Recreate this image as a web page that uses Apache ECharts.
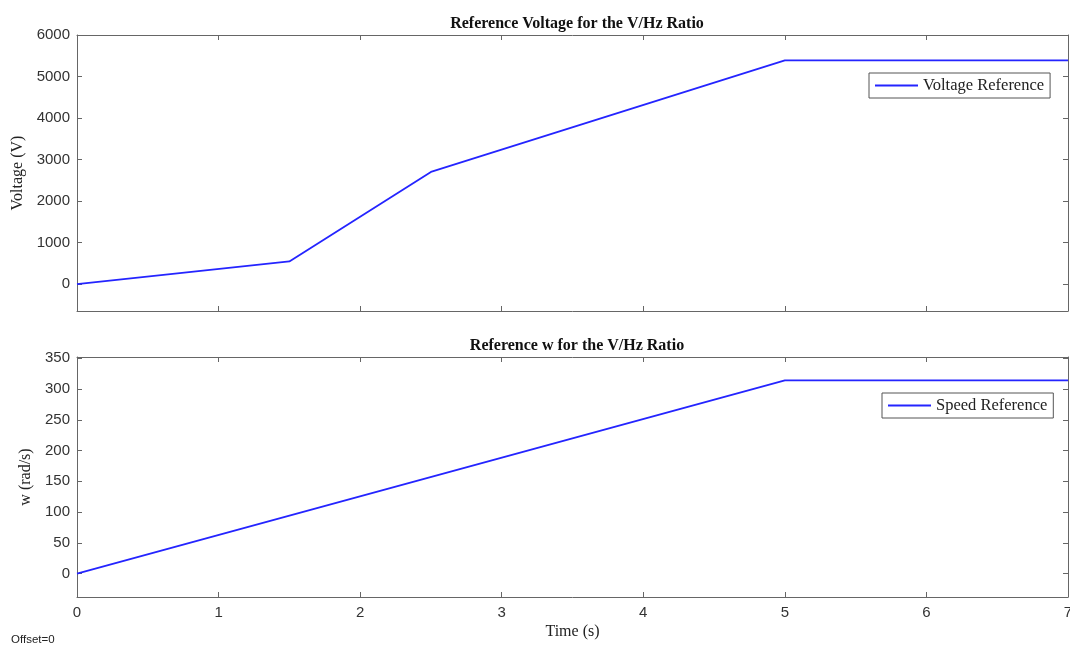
<!DOCTYPE html>
<html>
<head>
<meta charset="UTF-8">
<script src="https://cdn.jsdelivr.net/npm/echarts@6/dist/echarts.min.js"></script>
<style>
  body { margin: 0; background: #fff; }
  #chart { width: 1070px; height: 646px; }
</style>
</head>
<body>
<div id="chart"></div>
<script>
// data
const timeV = [0, 1.5, 2.5, 5, 7];
const voltV = [0, 545, 2700, 5389, 5389];
const timeW = [0, 5, 7];
const speedW = [0, 314, 314];
const xTicks = [0, 1, 2, 3, 4, 5, 6, 7];
const vTicks = [0, 1000, 2000, 3000, 4000, 5000, 6000];
const wTicks = [0, 50, 100, 150, 200, 250, 300, 350];

const chart = echarts.init(document.getElementById('chart'));
const axisCol = '#666';
const txtCol = '#333';
const serif = '"Liberation Serif", "DejaVu Serif", serif';
const sans = '"Liberation Sans", Arial, sans-serif';
const lineCol = '#2424ff';

function pairs(xs, ys) { return xs.map((x, i) => [x, ys[i]]); }

function xAx(grid, pos, labels) {
  return {
    type: 'value', gridIndex: grid, position: pos, min: 0, max: 7,
    axisLine: { show: true, onZero: false, lineStyle: { color: axisCol, width: 1 } },
    axisTick: { show: true, inside: true, length: 5, customValues: xTicks, lineStyle: { color: axisCol } },
    axisLabel: { show: labels, customValues: xTicks, color: txtCol, fontFamily: sans, fontSize: 15, margin: 8,
      formatter: v => String(v) },
    splitLine: { show: false },
    name: labels ? 'Time (s)' : '', nameLocation: 'middle', nameGap: 27,
    nameTextStyle: { fontFamily: serif, fontSize: 16, color: '#222' }
  };
}
function yAx(grid, pos, mn, mx, ticks, name, gap) {
  const left = pos === 'left';
  return {
    type: 'value', gridIndex: grid, position: pos, min: mn, max: mx,
    axisLine: { show: true, onZero: false, lineStyle: { color: axisCol, width: 1 } },
    axisTick: { show: true, inside: true, length: 5, customValues: ticks, lineStyle: { color: axisCol } },
    axisLabel: { show: left, customValues: ticks, color: txtCol, fontFamily: sans, fontSize: 15, margin: 7,
      formatter: v => String(v) },
    splitLine: { show: false },
    name: left ? name : '', nameLocation: 'middle', nameGap: gap,
    nameTextStyle: { fontFamily: serif, fontSize: 16, color: '#222' }
  };
}

const legendStyle = {
  orient: 'vertical', icon: 'rect', itemWidth: 43, itemHeight: 2, itemGap: 0,
  borderColor: '#555', borderWidth: 1, borderRadius: 0, padding: [4, 6, 4, 6],
  backgroundColor: '#fff',
  textStyle: { fontFamily: serif, fontSize: 16.5, color: '#222' }
};

chart.setOption({
  animation: false,
  title: [
    { text: 'Reference Voltage for the V/Hz Ratio', left: 572, top: 11, textAlign: 'center',
      textStyle: { fontFamily: serif, fontSize: 16, fontWeight: 'bold', color: '#111' } },
    { text: 'Reference w for the V/Hz Ratio', left: 572, top: 333, textAlign: 'center',
      textStyle: { fontFamily: serif, fontSize: 16, fontWeight: 'bold', color: '#111' } },
    { text: 'Offset=0', left: 11, top: 634, padding: 0,
      textStyle: { fontFamily: sans, fontSize: 11.5, fontWeight: 'normal', color: '#222' } }
  ],
  legend: [
    Object.assign({ data: ['Voltage Reference'], left: 869, top: 73 }, legendStyle),
    Object.assign({ data: ['Speed Reference'], left: 882, top: 393 }, legendStyle)
  ],
  grid: [
    { left: 77, right: 2, top: 35, height: 276, outerBoundsMode: 'none' },
    { left: 77, right: 2, top: 357, height: 240, outerBoundsMode: 'none' }
  ],
  xAxis: [
    xAx(0, 'bottom', false), xAx(0, 'top', false),
    xAx(1, 'bottom', true), xAx(1, 'top', false)
  ],
  yAxis: [
    yAx(0, 'left', -650, 6000, vTicks, 'Voltage (V)', 49),
    yAx(0, 'right', -650, 6000, vTicks, '', 0),
    yAx(1, 'left', -38, 352, wTicks, 'w (rad/s)', 34),
    yAx(1, 'right', -38, 352, wTicks, '', 0)
  ],
  series: [
    { name: 'Voltage Reference', type: 'line', xAxisIndex: 0, yAxisIndex: 0,
      data: pairs(timeV, voltV), showSymbol: false, color: lineCol,
      lineStyle: { width: 1.8, color: lineCol } },
    { name: 'Speed Reference', type: 'line', xAxisIndex: 2, yAxisIndex: 2,
      data: pairs(timeW, speedW), showSymbol: false, color: lineCol,
      lineStyle: { width: 1.8, color: lineCol } }
  ]
});
</script>
</body>
</html>
